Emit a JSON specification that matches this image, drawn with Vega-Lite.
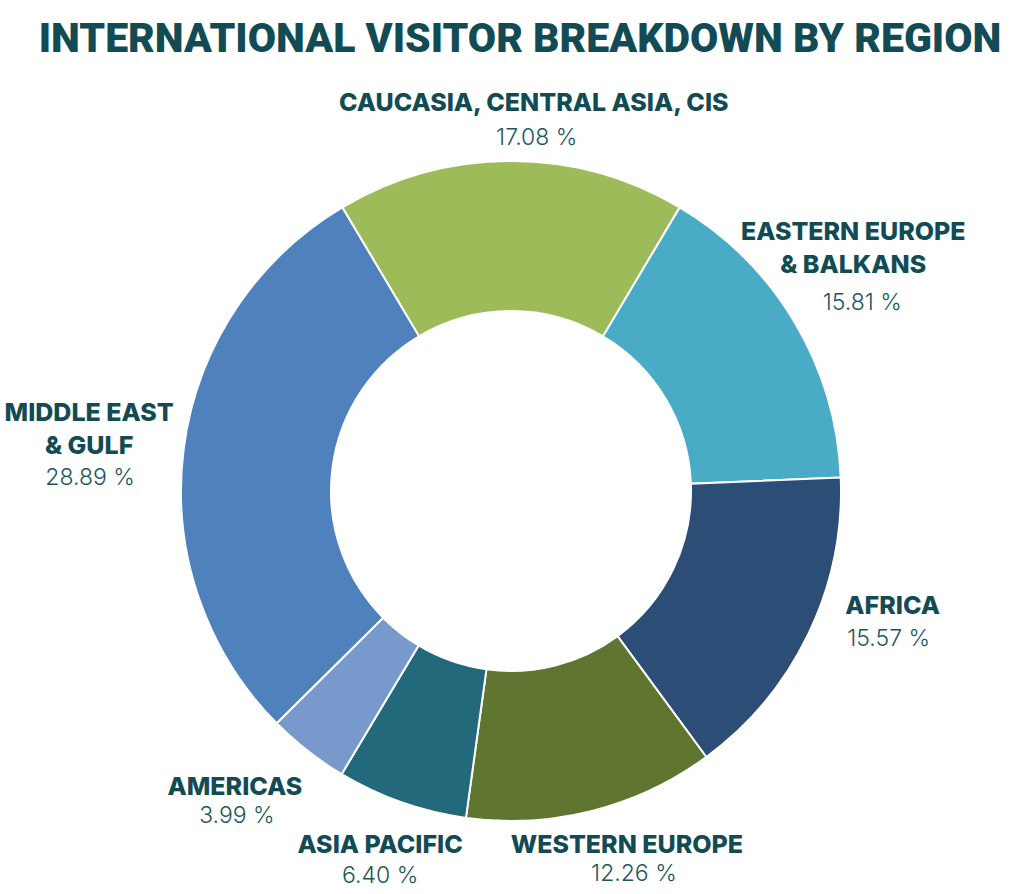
{
  "$schema": "https://vega.github.io/schema/vega-lite/v6.json",
  "width": 1022,
  "height": 806,
  "autosize": {"type": "none"},
  "padding": {"left": 0, "top": 88, "right": 2, "bottom": 0},
  "background": "white",
  "config": {"view": {"stroke": null}},
  "title": {
    "text": "INTERNATIONAL VISITOR BREAKDOWN BY REGION",
    "font": "Roboto",
    "fontSize": 41,
    "fontWeight": 900,
    "color": "#124b54",
    "anchor": "middle",
    "frame": "group",
    "baseline": "alphabetic",
    "offset": -5,
    "dx": 9
  },
  "data": {
    "values": [
      {"i": 1, "name": "CAUCASIA, CENTRAL ASIA, CIS", "pct": 17.08, "pctText": "17.08 %"},
      {"i": 2, "name": "EASTERN EUROPE\n& BALKANS", "pct": 15.81, "pctText": "15.81 %"},
      {"i": 3, "name": "AFRICA", "pct": 15.57, "pctText": "15.57 %"},
      {"i": 4, "name": "WESTERN EUROPE", "pct": 12.26, "pctText": "12.26 %"},
      {"i": 5, "name": "ASIA PACIFIC", "pct": 6.40, "pctText": "6.40 %"},
      {"i": 6, "name": "AMERICAS", "pct": 3.99, "pctText": "3.99 %"},
      {"i": 7, "name": "MIDDLE EAST\n& GULF", "pct": 28.89, "pctText": "28.89 %"}
    ]
  },
  "transform": [
    {"stack": "pct", "groupby": [], "sort": [{"field": "i", "order": "ascending"}], "as": ["s0", "s1"]}
  ],
  "encoding": {
    "theta": {"field": "s0", "type": "quantitative", "stack": null, "scale": {"domain": [0, 100], "range": [-0.53658, 5.74661]}}
  },
  "layer": [
    {
      "mark": {"type": "arc", "outerRadius": 330, "innerRadius": 180, "stroke": "white", "strokeWidth": 2},
      "encoding": {
        "theta2": {"field": "s1"},
        "color": {
          "field": "i", "type": "nominal", "legend": null,
          "scale": {"domain": [1, 2, 3, 4, 5, 6, 7], "range": ["#9dbb59", "#4aabc7", "#2c4e76", "#5f7530", "#22697c", "#7899cb", "#4f81bd"]}
        }
      }
    },
    {"transform": [{"filter": "datum.i === 1"}],
     "mark": {"type": "text", "radius": 380, "font": "Inter", "fontSize": 25, "fontWeight": 800, "color": "#124b54", "align": "center", "baseline": "top", "lineBreak": "\n", "lineHeight": 33, "dx": 217, "dy": -73},
     "encoding": {"text": {"field": "name", "type": "nominal"}}},
    {"transform": [{"filter": "datum.i === 2"}],
     "mark": {"type": "text", "radius": 380, "font": "Inter", "fontSize": 25, "fontWeight": 800, "color": "#124b54", "align": "center", "baseline": "top", "lineBreak": "\n", "lineHeight": 33, "dx": 148, "dy": 56},
     "encoding": {"text": {"field": "name", "type": "nominal"}}},
    {"transform": [{"filter": "datum.i === 3"}],
     "mark": {"type": "text", "radius": 380, "font": "Inter", "fontSize": 25, "fontWeight": 800, "color": "#124b54", "align": "center", "baseline": "top", "lineBreak": "\n", "lineHeight": 33, "dx": 2, "dy": 119},
     "encoding": {"text": {"field": "name", "type": "nominal"}}},
    {"transform": [{"filter": "datum.i === 4"}],
     "mark": {"type": "text", "radius": 380, "font": "Inter", "fontSize": 25, "fontWeight": 800, "color": "#124b54", "align": "center", "baseline": "top", "lineBreak": "\n", "lineHeight": 33, "dx": -109, "dy": 36},
     "encoding": {"text": {"field": "name", "type": "nominal"}}},
    {"transform": [{"filter": "datum.i === 5"}],
     "mark": {"type": "text", "radius": 380, "font": "Inter", "fontSize": 25, "fontWeight": 800, "color": "#124b54", "align": "center", "baseline": "top", "lineBreak": "\n", "lineHeight": 33, "dx": -79, "dy": -34},
     "encoding": {"text": {"field": "name", "type": "nominal"}}},
    {"transform": [{"filter": "datum.i === 6"}],
     "mark": {"type": "text", "radius": 380, "font": "Inter", "fontSize": 25, "fontWeight": 800, "color": "#124b54", "align": "center", "baseline": "top", "lineBreak": "\n", "lineHeight": 33, "dx": -81, "dy": -42},
     "encoding": {"text": {"field": "name", "type": "nominal"}}},
    {"transform": [{"filter": "datum.i === 7"}],
     "mark": {"type": "text", "radius": 380, "font": "Inter", "fontSize": 25, "fontWeight": 800, "color": "#124b54", "align": "center", "baseline": "top", "lineBreak": "\n", "lineHeight": 33, "dx": -152, "dy": -358},
     "encoding": {"text": {"field": "name", "type": "nominal"}}},
    {"transform": [{"filter": "datum.i === 1"}],
     "mark": {"type": "text", "radius": 380, "font": "Inter", "fontSize": 23, "fontWeight": 300, "color": "#1d5760", "align": "center", "baseline": "top", "dx": 220, "dy": -37},
     "encoding": {"text": {"field": "pctText", "type": "nominal"}}},
    {"transform": [{"filter": "datum.i === 2"}],
     "mark": {"type": "text", "radius": 380, "font": "Inter", "fontSize": 23, "fontWeight": 300, "color": "#1d5760", "align": "center", "baseline": "top", "dx": 157, "dy": 128},
     "encoding": {"text": {"field": "pctText", "type": "nominal"}}},
    {"transform": [{"filter": "datum.i === 3"}],
     "mark": {"type": "text", "radius": 380, "font": "Inter", "fontSize": 23, "fontWeight": 300, "color": "#1d5760", "align": "center", "baseline": "top", "dx": -2, "dy": 153},
     "encoding": {"text": {"field": "pctText", "type": "nominal"}}},
    {"transform": [{"filter": "datum.i === 4"}],
     "mark": {"type": "text", "radius": 380, "font": "Inter", "fontSize": 23, "fontWeight": 300, "color": "#1d5760", "align": "center", "baseline": "top", "dx": -102, "dy": 66},
     "encoding": {"text": {"field": "pctText", "type": "nominal"}}},
    {"transform": [{"filter": "datum.i === 5"}],
     "mark": {"type": "text", "radius": 380, "font": "Inter", "fontSize": 23, "fontWeight": 300, "color": "#1d5760", "align": "center", "baseline": "top", "dx": -79, "dy": -2},
     "encoding": {"text": {"field": "pctText", "type": "nominal"}}},
    {"transform": [{"filter": "datum.i === 6"}],
     "mark": {"type": "text", "radius": 380, "font": "Inter", "fontSize": 23, "fontWeight": 300, "color": "#1d5760", "align": "center", "baseline": "top", "dx": -79, "dy": -12},
     "encoding": {"text": {"field": "pctText", "type": "nominal"}}},
    {"transform": [{"filter": "datum.i === 7"}],
     "mark": {"type": "text", "radius": 380, "font": "Inter", "fontSize": 23, "fontWeight": 300, "color": "#1d5760", "align": "center", "baseline": "top", "dx": -151, "dy": -292},
     "encoding": {"text": {"field": "pctText", "type": "nominal"}}}
  ]
}
